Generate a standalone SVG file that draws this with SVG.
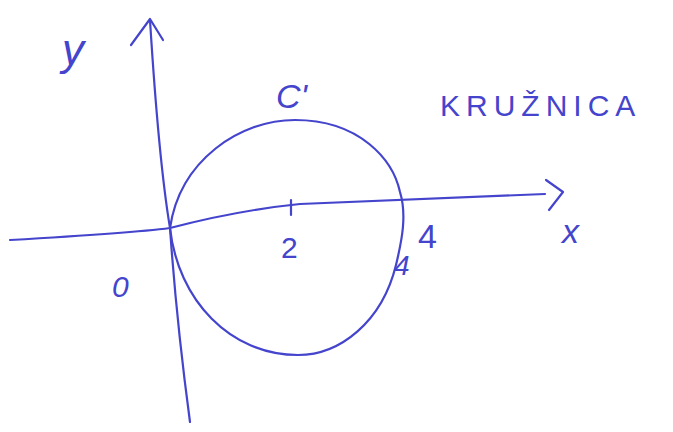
<svg xmlns="http://www.w3.org/2000/svg" width="673" height="432" viewBox="0 0 673 432">
<style>
.ink{fill:none;stroke:#4444cc;stroke-width:2.2;stroke-linecap:round;stroke-linejoin:round}
.t{fill:#4444cc;font-family:"Liberation Sans",sans-serif;font-style:italic}
.n{fill:#4444cc;font-family:"Liberation Sans",sans-serif;font-style:normal}
</style>
<rect width="673" height="432" fill="#ffffff"/>
<g id="connectors">
<path class="ink" d="M10,240 C80,236 140,232 170,228 C220,215 260,208 300,204 L545,194"/>
<path class="ink" d="M546,180 L563,192 L549,210"/>
<path class="ink" d="M150,20 C155,100 162,180 170,228 C175,300 183,370 190,422"/>
<path class="ink" d="M131,45 L150,19 L163,40"/>
</g>
<g id="circle">
<path class="ink" d="M170,228 C180,160 240,120 295,120 C360,120 393,160 400,192 C407,215 402,240 396,265 C382,322 340,355 298,355 C230,355 178,300 170,228 Z"/>
<path class="ink" d="M291,200 L291,215"/>
</g>
<g id="labels">
<text class="t" x="62" y="65" font-size="44">y</text>
<text class="t" x="276" y="108" font-size="34">C'</text>
<text class="n" x="440" y="116" font-size="30" letter-spacing="6">KRUŽNICA</text>
<text class="n" x="281" y="258" font-size="30">2</text>
<text class="n" x="418" y="248" font-size="34">4</text>
<text class="t" x="394" y="275" font-size="28">4</text>
<text class="t" x="112" y="297" font-size="30">0</text>
<text class="t" x="562" y="243" font-size="34">x</text>
</g>
</svg>
